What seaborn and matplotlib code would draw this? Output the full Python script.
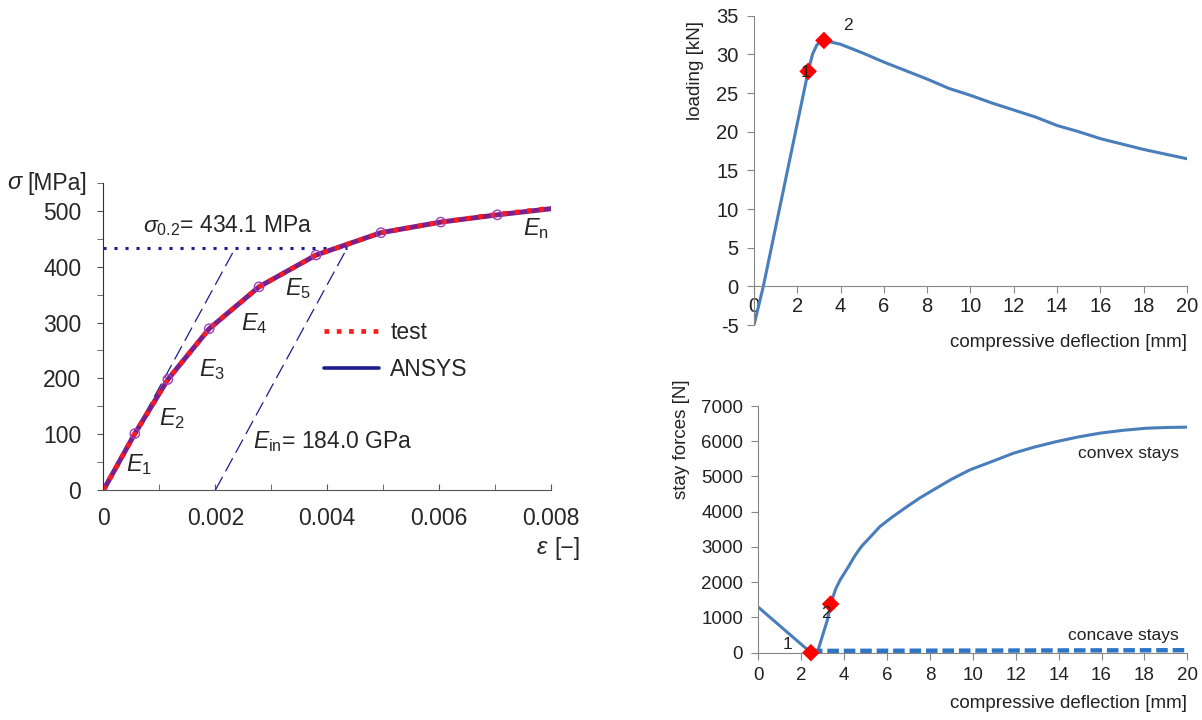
import numpy as np
import matplotlib
matplotlib.use("Agg")
import matplotlib.pyplot as plt
import seaborn as sns
from matplotlib.lines import Line2D
from matplotlib.ticker import FixedLocator, MultipleLocator

# ----------------------------
# data
# ----------------------------

# stress-strain curve (left)
strain = [0, 0.00056, 0.00115, 0.00189, 0.00278, 0.0038, 0.00496, 0.00603, 0.00704, 0.008]
stress = [0, 101, 198, 289, 364, 421, 461, 480, 493, 504]
test_strain = [0, 0.00056, 0.00115, 0.00189, 0.00278, 0.0038, 0.00496, 0.00603, 0.00704, 0.008]
test_stress = [0, 101, 198, 289, 364, 421, 461, 480, 494, 505]
mod_labels = ["1", "2", "3", "4", "5", "n"]
sigma_02 = 434.1      # MPa
E_in = 184000.0       # MPa
offset = 0.002

# loading vs deflection (top right)
defl_load = [0, 0.43, 2.5, 2.7, 2.9, 3.05, 3.23, 4, 5, 6, 7, 8, 9, 10, 11, 12, 13,
             14, 15, 16, 17, 18, 19, 20]
load = [-5, 0, 27.8, 30.0, 31.2, 31.6, 31.8, 31.3, 30.2, 29.0, 27.9, 26.8, 25.6, 24.7,
        23.7, 22.8, 21.9, 20.8, 20.0, 19.1, 18.4, 17.7, 17.1, 16.5]
load_pts_x = [2.5, 3.23]
load_pts_y = [27.8, 31.8]

# stay forces vs deflection (bottom right)
defl_convex = [0, 2.45, 2.75, 2.95, 3.22, 3.37, 3.6, 3.81, 4.2, 4.5, 4.8, 5.2, 5.67, 6.2,
               6.92, 7.5, 8.16, 9, 9.87, 11, 11.89, 12.9, 13.9, 14.9, 15.93, 17, 18.1, 19, 20]
convex = [1290, 0, 0, 400, 930, 1380, 1800, 2060, 2440, 2750, 3010, 3270, 3580, 3830,
          4140, 4380, 4620, 4920, 5190, 5450, 5660, 5840, 5990, 6120, 6230, 6310, 6370,
          6390, 6400]
defl_concave = [2.45, 20]
concave = [50, 70]
stay_pts_x = [2.45, 3.37]
stay_pts_y = [0, 1380]

sns.set_style("ticks")
plt.rcParams['font.family'] = ['Liberation Sans', 'DejaVu Sans']
plt.rcParams['mathtext.fontset'] = 'custom'
plt.rcParams['mathtext.rm'] = 'Liberation Sans'
plt.rcParams['mathtext.it'] = 'Liberation Sans:italic'
plt.rcParams['axes.unicode_minus'] = False

fig = plt.figure(figsize=(12.02, 7.2), dpi=100)

navy = '#1c1c8c'
purple = '#7d1f88'
blue = '#4a7ebb'

# ----------------------------
# LEFT - stress strain
# ----------------------------
ax = fig.add_axes([0.0861, 0.3194, 0.3723, 0.4264])

x1 = sigma_02 / E_in
sns.lineplot(x=[0, x1], y=[0, sigma_02], ax=ax, color=navy, lw=0.9,
             linestyle=(0, (12, 5)), sort=False, estimator=None)
sns.lineplot(x=[offset, offset + x1], y=[0, sigma_02], ax=ax, color=navy, lw=0.9,
             linestyle=(0, (12, 5)), sort=False, estimator=None)
sns.lineplot(x=[0, offset + x1], y=[sigma_02, sigma_02], ax=ax, color=navy, lw=2.2,
             linestyle=(0, (1, 2.6)), sort=False, estimator=None)

sns.lineplot(x=strain, y=stress, ax=ax, color=purple, lw=3.6, sort=False, estimator=None)
sns.lineplot(x=test_strain, y=test_stress, ax=ax, color='#ff1a1a', lw=3.4,
             linestyle=(0, (1, 1.6)), sort=False, estimator=None)
sns.scatterplot(x=strain[1:-1], y=stress[1:-1], ax=ax, s=45, marker='o',
                facecolor='none', edgecolor='#a040b5', linewidth=1.0, zorder=5)

ax.set_xlim(0, 0.008)
ax.set_ylim(0, 550)
sns.despine(ax=ax)
ax.spines['left'].set_color('#4a1f55')
ax.spines['bottom'].set_color('#555555')

xt = [0, 0.002, 0.004, 0.006, 0.008]
ax.xaxis.set_major_locator(FixedLocator(xt))
ax.set_xticklabels(['0', '0.002', '0.004', '0.006', '0.008'])
ax.xaxis.set_minor_locator(MultipleLocator(0.001))
ax.yaxis.set_major_locator(MultipleLocator(100))
ax.yaxis.set_minor_locator(MultipleLocator(50))
ax.tick_params(axis='x', which='both', direction='in', length=4, color='#555555',
               labelsize=16.5, pad=12)
ax.tick_params(axis='y', which='both', direction='out', length=4, color='#555555',
               labelsize=16.5, pad=12)
ax.set_xlabel('')
ax.set_ylabel('')

ax.text(-0.215, 1.0, r'$\sigma$', transform=ax.transAxes, fontsize=17,
        family='Liberation Serif', style='italic', ha='left', va='center')
ax.text(-0.17, 1.0, '[MPa]', transform=ax.transAxes, fontsize=16.5,
        ha='left', va='center')
ax.text(0.995, -0.19, r'$\varepsilon$', transform=ax.transAxes, fontsize=17,
        family='Liberation Serif', style='italic', ha='right', va='center')
ax.text(1.065, -0.19, '[\u2212]', transform=ax.transAxes, fontsize=16.5,
        ha='right', va='center')

label_pos = [(0.00041, 45), (0.001, 128), (0.0017, 215), (0.00246, 298),
             (0.00325, 361), (0.0075, 468)]
for lab, (px, py) in zip(mod_labels, label_pos):
    ax.text(px, py, r'$E_{\mathrm{%s}}$' % lab, fontsize=17, ha='left', va='center')

ax.text(0.0007, 474, r'$\sigma_{\mathrm{0.2}}$= %.1f MPa' % sigma_02, fontsize=16.5,
        ha='left', va='center')
ax.text(0.00267, 86, r'$E_{\mathrm{in}}$= %.1f GPa' % (E_in / 1000), fontsize=16.5,
        ha='left', va='center')

handles = [Line2D([], [], color='#ff1a1a', lw=3.4, linestyle=(0, (1, 1.6))),
           Line2D([], [], color=navy, lw=2.6)]
ax.legend(handles, ['test', 'ANSYS'], loc='upper left', bbox_to_anchor=(0.4925, 0.55),
          frameon=False, fontsize=16.5, handlelength=2.4, handletextpad=0.5,
          labelspacing=0.6, borderpad=0, borderaxespad=0)

# ----------------------------
# TOP RIGHT - loading
# ----------------------------
ax2 = fig.add_axes([0.6273, 0.5486, 0.3602, 0.4296])
sns.lineplot(x=defl_load, y=load, ax=ax2, color=blue, lw=2.2, sort=False, estimator=None)
sns.scatterplot(x=load_pts_x, y=load_pts_y, ax=ax2, marker='D', s=80, color='#ff0000',
                edgecolor='none', zorder=5, clip_on=False)
ax2.set_xlim(0, 20)
ax2.set_ylim(-5, 35)
sns.despine(ax=ax2)
ax2.spines['bottom'].set_position(('data', 0))
for sp in ['left', 'bottom']:
    ax2.spines[sp].set_color('#868686')
ax2.xaxis.set_major_locator(MultipleLocator(2))
ax2.yaxis.set_major_locator(MultipleLocator(5))
ax2.tick_params(axis='both', direction='out', length=5, color='#868686',
                labelsize=14.5, labelcolor='#222222')
ax2.tick_params(axis='x', pad=3)
ax2.tick_params(axis='y', pad=6)
ax2.set_ylabel('loading [kN]', fontsize=13.5, color='#222222', va='center')
ax2.yaxis.set_label_coords(-0.136, 0.824)
ax2.set_xlabel('compressive deflection [mm]', fontsize=13.5, color='#222222',
               ha='right', va='center')
ax2.xaxis.set_label_coords(1.0, -0.058)
ax2.text(2.38, 27.6, '1', fontsize=12.5, ha='center', va='center', color='#222222',
         zorder=6)
ax2.text(4.35, 33.7, '2', fontsize=12.5, ha='center', va='center', color='#222222')

# ----------------------------
# BOTTOM RIGHT - stay forces
# ----------------------------
ax3 = fig.add_axes([0.6309, 0.0935, 0.3569, 0.3426])
sns.lineplot(x=defl_convex, y=convex, ax=ax3, color=blue, lw=2.2, sort=False, estimator=None)
sns.lineplot(x=defl_concave, y=concave, ax=ax3, color='#2e75c6', lw=3.2,
             linestyle=(0, (2.6, 1.1)), sort=False, estimator=None)
sns.scatterplot(x=stay_pts_x, y=stay_pts_y, ax=ax3, marker='D', s=80, color='#ff0000',
                edgecolor='none', zorder=5, clip_on=False)
ax3.set_xlim(0, 20)
ax3.set_ylim(0, 7000)
sns.despine(ax=ax3)
for sp in ['left', 'bottom']:
    ax3.spines[sp].set_color('#868686')
ax3.xaxis.set_major_locator(MultipleLocator(2))
ax3.yaxis.set_major_locator(MultipleLocator(1000))
ax3.tick_params(axis='both', direction='out', length=5, color='#868686',
                labelsize=13.5, labelcolor='#222222')
ax3.tick_params(axis='x', pad=5)
ax3.tick_params(axis='y', pad=6)
ax3.set_ylabel('stay forces [N]', fontsize=13.5, color='#222222', va='center')
ax3.yaxis.set_label_coords(-0.178, 0.866)
ax3.set_xlabel('compressive deflection [mm]', fontsize=13.5, color='#222222',
               ha='right', va='center')
ax3.xaxis.set_label_coords(1.0, -0.204)
ax3.text(19.6, 5660, 'convex stays', fontsize=12.5, ha='right', va='center', color='#222222')
ax3.text(19.6, 500, 'concave stays', fontsize=12.5, ha='right', va='center', color='#222222')
ax3.text(1.35, 218, '1', fontsize=12.5, ha='center', va='center', color='#222222')
ax3.text(3.14, 1116, '2', fontsize=12.5, ha='center', va='center', color='#222222',
         zorder=6)

fig.savefig('out.png', dpi=100)
